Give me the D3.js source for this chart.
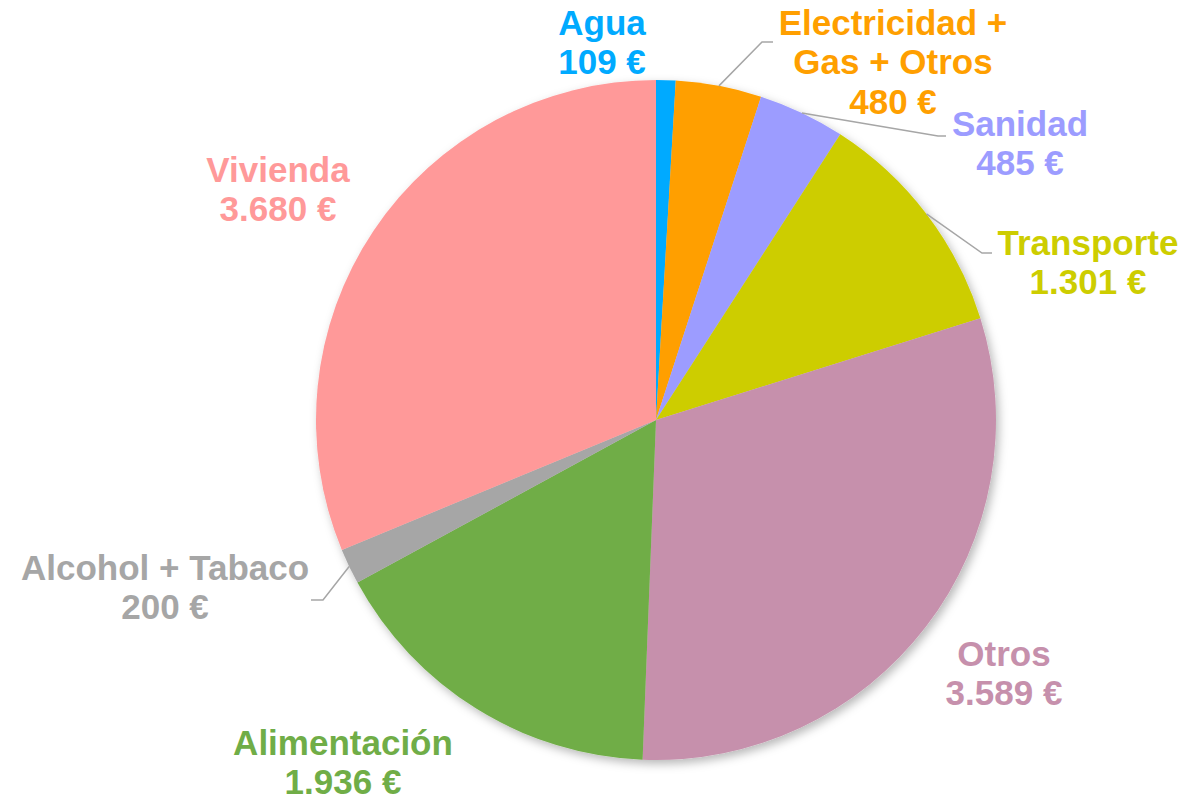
<!DOCTYPE html>
<html>
<head>
<meta charset="utf-8">
<script src="https://cdn.jsdelivr.net/npm/d3@7"></script>
<style>
  html, body { margin: 0; padding: 0; background: #ffffff; }
  svg { display: block; }
</style>
</head>
<body>
<svg id="chart" width="1186" height="799"></svg>
<script>
// Household spending by category (euros), clockwise from 12 o'clock
const categories = [
  "Agua",
  "Electricidad +\nGas + Otros",
  "Sanidad",
  "Transporte",
  "Otros",
  "Alimentación",
  "Alcohol + Tabaco",
  "Vivienda"
];
const values = [109, 480, 485, 1301, 3589, 1936, 200, 3680];
const colors = ["#00AAFF", "#FF9F00", "#9C9CFF", "#CDCD00", "#C690AC", "#70AD47", "#A6A6A6", "#FF9999"];

// Label placement: text centre x and first baseline y, plus leader elbow (if any)
const labelLayout = [
  { x: 602,  y: 35,  leader: null },
  { x: 893,  y: 35,  leader: { bx: 762, by: 42, ex: 773 } },
  { x: 1020, y: 136, leader: { bx: 938, by: 136, ex: 946 } },
  { x: 1088, y: 255, leader: { bx: 982, by: 253, ex: 992 } },
  { x: 1004, y: 666, leader: null },
  { x: 343,  y: 755, leader: null },
  { x: 165,  y: 580, leader: { bx: 323, by: 600, ex: 311 } },
  { x: 278,  y: 182, leader: null }
];

const cx = 656, cy = 420, radius = 340;
const fontSize = 35, lineHeight = 39.3;

const euro = d3.formatLocale({ decimal: ",", thousands: ".", grouping: [3], currency: ["", " €"] });
const fmt = euro.format("$,.0f");

const data = categories.map((c, i) => ({ name: c, value: values[i], color: colors[i], layout: labelLayout[i] }));

const svg = d3.select("#chart");

const defs = svg.append("defs");
const shadow = defs.append("filter")
  .attr("id", "pieShadow")
  .attr("x", "-10%").attr("y", "-10%")
  .attr("width", "120%").attr("height", "120%");
shadow.append("feDropShadow")
  .attr("dx", 3).attr("dy", 4)
  .attr("stdDeviation", 5)
  .attr("flood-color", "#000")
  .attr("flood-opacity", 0.28);

const pie = d3.pie().sort(null).value(d => d.value);
const arc = d3.arc().innerRadius(0).outerRadius(radius);
const arcs = pie(data);

const g = svg.append("g").attr("transform", `translate(${cx},${cy})`);

g.append("g")
  .attr("filter", "url(#pieShadow)")
  .selectAll("path")
  .data(arcs)
  .join("path")
  .attr("d", arc)
  .attr("fill", d => d.data.color);

// Leader lines from slice edge midpoint to the label
svg.append("g")
  .selectAll("polyline")
  .data(arcs.filter(d => d.data.layout.leader))
  .join("polyline")
  .attr("fill", "none")
  .attr("stroke", "#A6A6A6")
  .attr("stroke-width", 1.5)
  .attr("points", d => {
    const mid = (d.startAngle + d.endAngle) / 2;
    const sx = cx + radius * Math.sin(mid);
    const sy = cy - radius * Math.cos(mid);
    const L = d.data.layout.leader;
    return [[sx, sy], [L.bx, L.by], [L.ex, L.by]].map(p => p.join(",")).join(" ");
  });

// Category + value labels
const labels = svg.append("g")
  .attr("font-family", "'Liberation Sans', Arial, sans-serif")
  .attr("font-weight", "bold")
  .attr("font-size", fontSize)
  .attr("text-anchor", "middle")
  .selectAll("text")
  .data(data)
  .join("text")
  .attr("fill", d => d.color)
  .attr("x", d => d.layout.x)
  .attr("y", d => d.layout.y);

labels.each(function (d) {
  const lines = d.name.split("\n").concat([fmt(d.value)]);
  d3.select(this).selectAll("tspan")
    .data(lines)
    .join("tspan")
    .attr("x", d.layout.x)
    .attr("dy", (l, i) => i === 0 ? 0 : lineHeight)
    .text(l => l);
});
</script>
</body>
</html>
